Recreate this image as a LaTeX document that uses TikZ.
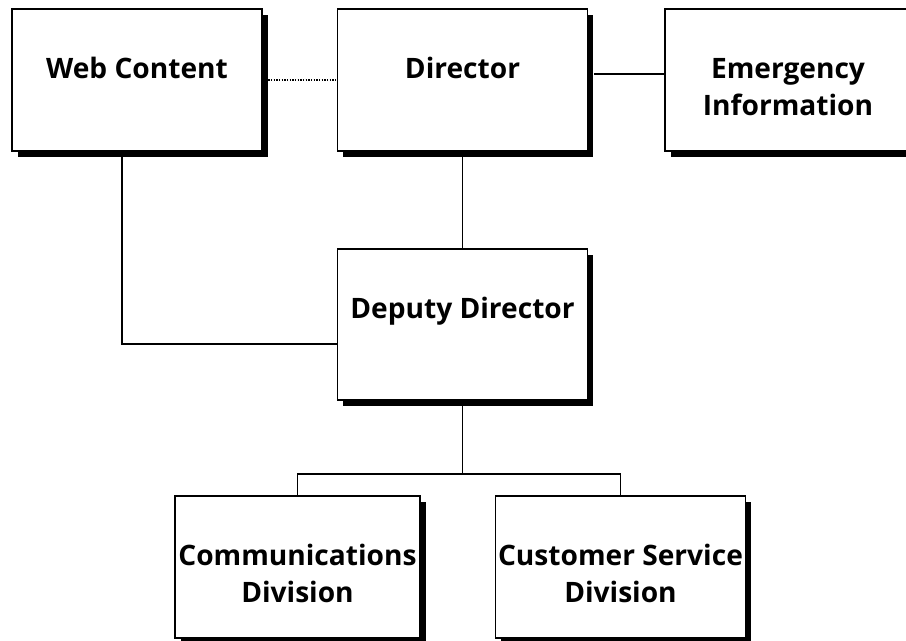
\documentclass[tikz,border=0pt]{standalone}
\usepackage{fontspec}
\setmainfont{Open Sans}
\usepackage{tikz}
\usetikzlibrary{positioning,shadows}
\tikzset{
  box/.style={draw, fill=white, line width=0.9pt, minimum width=6.25cm, minimum height=3.55cm,
    inner sep=0pt, drop shadow={shadow xshift=0.14cm, shadow yshift=-0.14cm, fill=black, opacity=1}},
  boxtext/.style={align=center, inner sep=0pt, anchor=base, font=\bfseries\fontsize{20pt}{26.3pt}\selectfont},
  link/.style={line width=0.9pt},
  dotlink/.style={line width=0.9pt, densely dotted}
}
\begin{document}
\begin{tikzpicture}[x=0.025cm,y=-0.025cm]
        \useasboundingbox (0,0) rectangle (906,640);
        \clip (0,0) rectangle (906,640);
        \coordinate (bend) at (122,344);
        \coordinate (split) at (462.5,474);
        \node[box] (web) at (137,80) {};
        \node[box] (director) at (462.5,80) {};
        \node[box, minimum width=6.15cm] (emerg) at (788,80) {};
        \node[box, minimum height=3.775cm] (deputy) at (462.5,324.5) {};
        \node[box, minimum width=6.125cm] (comm) at (297.5,567) {};
        \node[box] (cust) at (620.5,567) {};
        % one line: baseline 70px below the top, two lines: last baseline 107px below
        \node[boxtext] (webtxt) at ([yshift=-1.75cm]web.north) {Web Content};
        \node[boxtext] (directortxt) at ([yshift=-1.75cm]director.north) {Director};
        \node[boxtext] (emergtxt) at ([yshift=-2.675cm]emerg.north) {Emergency\\Information};
        \node[boxtext] (deputytxt) at ([yshift=-1.75cm]deputy.north) {Deputy Director};
        \node[boxtext] (commtxt) at ([yshift=-2.675cm]comm.north) {Communications\\Division};
        \node[boxtext] (custtxt) at ([yshift=-2.675cm]cust.north) {Customer Service\\Division};
        \draw[dotlink] ([xshift=0.14cm]web.east) -- (director.west);
        \draw[link] ([xshift=0.14cm,yshift=0.15cm]director.east) -- ([yshift=0.15cm]emerg.west);
        \draw[link] (director.south) -- (deputy.north);
        \draw[link] (web.south -| bend) -- (bend) -- (bend -| deputy.west);
        \draw[link] (deputy.south) -- (split);
        \draw[link] (comm.north) |- (split) -| (cust.north);
      \end{tikzpicture}
\end{document}
